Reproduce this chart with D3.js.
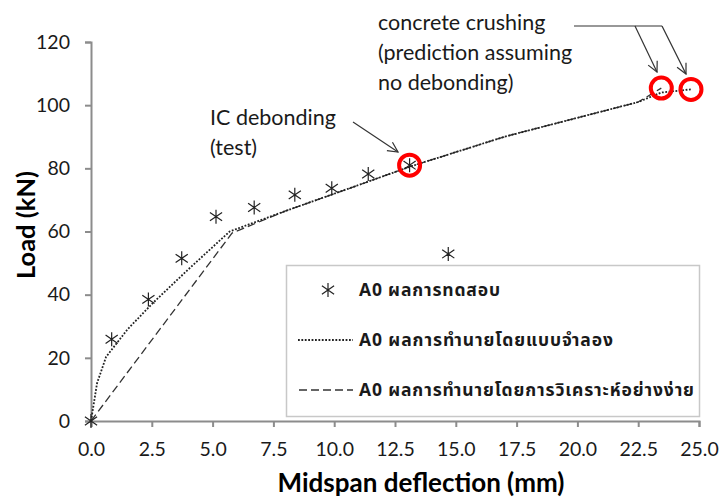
<!DOCTYPE html>
<html>
<head>
<meta charset="utf-8">
<script src="https://cdn.jsdelivr.net/npm/d3@7"></script>
<style>
  body { margin: 0; background: #fff; }
  svg text { font-family: Lato, "Open Sans", sans-serif; }
  .legend text { font-family: "Noto Sans Thai", "Noto Sans", Lato, sans-serif; }
</style>
</head>
<body>
<svg id="chart" width="722" height="500"></svg>
<script>
// test results (deflection mm, load kN)
var testX = [0, 0.85, 2.36, 3.73, 5.14, 6.71, 8.38, 9.9, 11.4, 13.1, 14.69];
var testY = [0, 25.9, 38.5, 51.5, 64.7, 67.6, 71.6, 73.7, 78.2, 81, 52.9];

// simulation prediction (dotted)
var simX = [0, 0.25, 0.62, 1.5, 2.55, 4.0, 5.7, 8.0, 11.0, 13.1, 17.0, 20.5, 22.5, 23.45, 24.67];
var simY = [0, 12, 20.3, 29, 37.4, 48, 60, 66.5, 74.7, 80.5, 90, 97, 101, 104, 105];

// simplified analysis prediction (dashed)
var anaX = [0, 5.8, 8.0, 11.0, 13.1, 17.0, 20.5, 22.5, 23.45];
var anaY = [0, 59.5, 66.5, 74.7, 80.5, 90, 97, 101, 105.4];

// failure points circled in red
var failX = [13.1, 23.45, 24.67];
var failY = [81, 105.4, 105];

var xTicks = [0, 2.5, 5, 7.5, 10, 12.5, 15, 17.5, 20, 22.5, 25];
var yTicks = [0, 20, 40, 60, 80, 100, 120];

var legendLabels = ["A0 ผลการทดสอบ", "A0 ผลการทำนายโดยแบบจำลอง", "A0 ผลการทำนายโดยการวิเคราะห์อย่างง่าย"];
var legendWidths = [141, 254, 335];

var svg = d3.select("#chart");
var x = d3.scaleLinear().domain([0, 25]).range([91, 699]);
var y = d3.scaleLinear().domain([0, 120]).range([421, 42]);

// axes
var xAxis = svg.append("g").attr("transform", "translate(0," + y(0) + ")")
    .call(d3.axisBottom(x).tickValues(xTicks).tickSize(6).tickPadding(15)
          .tickFormat(d3.format(".1f")));
var yAxis = svg.append("g").attr("transform", "translate(" + x(0) + ",0)")
    .call(d3.axisLeft(y).tickValues(yTicks).tickSize(6).tickPadding(15));
[xAxis, yAxis].forEach(function (a) {
    a.select(".domain").attr("stroke", "#8c8c8c").attr("stroke-width", 2);
    a.selectAll(".tick line").attr("stroke", "#8c8c8c").attr("stroke-width", 2);
    a.selectAll(".tick text").attr("font-size", 19.5).attr("fill", "#1a1a1a")
        .style("font-family", "Lato, sans-serif");
});

// axis titles
svg.append("text").attr("x", 421).attr("y", 492).attr("text-anchor", "middle")
    .attr("font-size", 26).attr("font-weight", "bold").attr("fill", "#000")
    .text("Midspan deflection (mm)");
svg.append("text").attr("transform", "translate(35,225) rotate(-90)")
    .attr("text-anchor", "middle").attr("font-size", 25.5).attr("font-weight", "bold")
    .attr("fill", "#000").text("Load (kN)");

// legend box
var lg = svg.append("g").attr("class", "legend");
lg.append("rect").attr("x", 286.5).attr("y", 265.5).attr("width", 413).attr("height", 151)
    .attr("fill", "#fff").attr("stroke", "#c8c8c8").attr("stroke-width", 1.5);

var line = d3.line().x(function (d) { return x(d[0]); }).y(function (d) { return y(d[1]); });

function star(g, cx, cy, r) {
    var p = "M" + cx + "," + (cy - r) + "L" + cx + "," + (cy + r) +
        "M" + (cx - r * 0.87) + "," + (cy - r * 0.6) + "L" + (cx + r * 0.87) + "," + (cy + r * 0.6) +
        "M" + (cx - r * 0.87) + "," + (cy + r * 0.6) + "L" + (cx + r * 0.87) + "," + (cy - r * 0.6);
    g.append("path").attr("d", p).attr("stroke", "#222").attr("stroke-width", 1.2).attr("fill", "none");
}

// prediction lines
svg.append("path").datum(d3.zip(anaX, anaY)).attr("d", line)
    .attr("fill", "none").attr("stroke", "#333").attr("stroke-width", 1.3)
    .attr("stroke-dasharray", "8,4");
svg.append("path").datum(d3.zip(simX, simY)).attr("d", line)
    .attr("fill", "none").attr("stroke", "#222").attr("stroke-width", 1.8)
    .attr("stroke-dasharray", "1.8,1.6");

// test stars
var stars = svg.append("g");
testX.forEach(function (d, i) { star(stars, x(d), y(testY[i]), 7); });

// red circles
svg.selectAll(".fail").data(failX).enter().append("circle")
    .attr("cx", function (d) { return x(d); })
    .attr("cy", function (d, i) { return y(failY[i]); })
    .attr("r", 10.5).attr("fill", "none").attr("stroke", "#ff0000").attr("stroke-width", 4);

// legend entries
var rowY = [290, 340, 390];
star(lg, 328, rowY[0], 7);
lg.append("line").attr("x1", 298).attr("x2", 353).attr("y1", rowY[1]).attr("y2", rowY[1])
    .attr("stroke", "#222").attr("stroke-width", 1.8).attr("stroke-dasharray", "1.8,1.6");
lg.append("line").attr("x1", 299).attr("x2", 353).attr("y1", rowY[2]).attr("y2", rowY[2])
    .attr("stroke", "#333").attr("stroke-width", 1.3).attr("stroke-dasharray", "8,4");
legendLabels.forEach(function (t, i) {
    lg.append("text").attr("x", 359).attr("y", rowY[i] + 6).attr("font-size", 17.5)
        .attr("font-weight", "bold").attr("fill", "#1a1a1a")
        .attr("textLength", legendWidths[i]).attr("lengthAdjust", "spacing").text(t);
});

// annotations
var ann = svg.append("g").attr("font-size", 21.5).attr("fill", "#1a1a1a");
[["concrete crushing", 30], ["(prediction assuming", 60], ["no debonding)", 90]].forEach(function (d) {
    ann.append("text").attr("x", 378).attr("y", d[1]).text(d[0]);
});
[["IC debonding", 125], ["(test)", 155]].forEach(function (d) {
    ann.append("text").attr("x", 210).attr("y", d[1]).text(d[0]);
});

var defs = svg.append("defs");
defs.append("marker").attr("id", "arr").attr("viewBox", "0 0 12 12").attr("refX", 11).attr("refY", 6)
    .attr("markerWidth", 12).attr("markerHeight", 12).attr("markerUnits", "userSpaceOnUse")
    .attr("orient", "auto")
    .append("path").attr("d", "M1,1L11,6L1,11").attr("fill", "none").attr("stroke", "#333").attr("stroke-width", 1.2);

var arrows = [[353, 122, 398, 152], [635, 26, 657, 72], [662, 26, 686, 74]];
svg.append("line").attr("x1", 574).attr("y1", 26).attr("x2", 662).attr("y2", 26)
    .attr("stroke", "#333").attr("stroke-width", 1.2);
arrows.forEach(function (a) {
    svg.append("line").attr("x1", a[0]).attr("y1", a[1]).attr("x2", a[2]).attr("y2", a[3])
        .attr("stroke", "#333").attr("stroke-width", 1.2).attr("marker-end", "url(#arr)");
});
</script>
</body>
</html>
